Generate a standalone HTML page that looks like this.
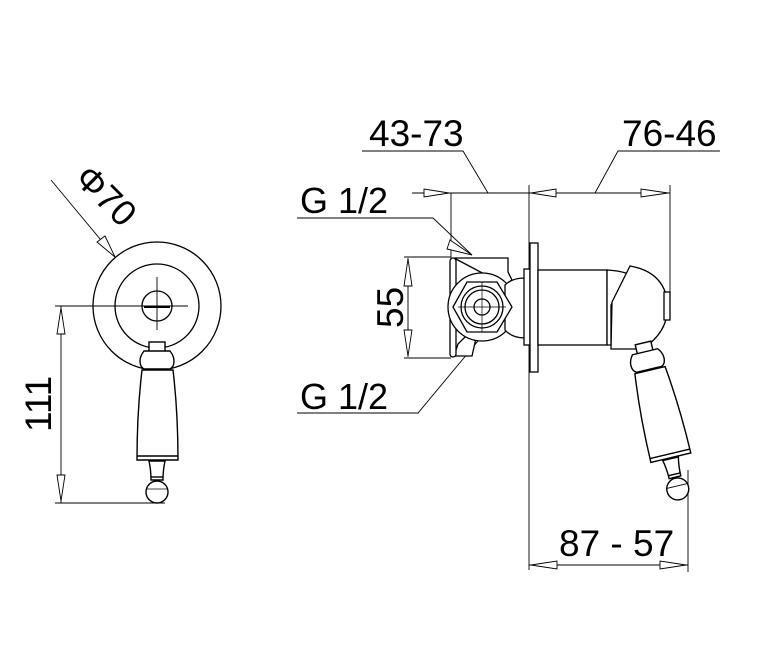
<!DOCTYPE html>
<html><head><meta charset="utf-8"><style>
html,body{margin:0;padding:0;background:#fff}
svg{display:block}
text{font-family:"Liberation Sans",sans-serif;fill:#000}
</style></head><body>
<svg width="762" height="672" viewBox="0 0 762 672" xmlns="http://www.w3.org/2000/svg">
<defs>
<g id="handle" fill="#fff" stroke="#000" stroke-width="1.4">
  <rect x="-8" y="0" width="16" height="10"/>
  <path d="M-13,9 L13,9 Q17,14 17,19 Q17,25 13,27 L-13,27 Q-17,25 -17,19 Q-17,14 -13,9 Z"/>
  <path d="M-15,28 L16,28 Q21,70 21,118 L-20,118 Q-20,70 -15,28 Z"/>
  <line x1="-20" y1="114" x2="21" y2="114"/>
  <path d="M-8,119 L8,119 Q6,128 6,138 L-6,138 Q-6,128 -8,119 Z"/>
  <line x1="-6" y1="135" x2="6" y2="135"/>
  <circle cx="0" cy="150" r="11"/>
  <line x1="-10" y1="147" x2="10" y2="147" stroke-width="0.8"/>
</g>
</defs>

<!-- LEFT VIEW -->
<g fill="none" stroke="#000" stroke-width="1.3">
  <circle cx="157" cy="306" r="64"/>
  <circle cx="157" cy="306" r="42"/>
  <circle cx="157" cy="306" r="15"/>
</g>
<g stroke="#000" stroke-width="0.9">
  <line x1="55" y1="306" x2="188" y2="306"/>
  <line x1="157" y1="277" x2="157" y2="330"/>
  <line x1="144" y1="307" x2="170" y2="307" stroke-width="2"/>
  <line x1="61" y1="306" x2="61" y2="503"/>
  <line x1="55" y1="503" x2="165" y2="503"/>
  <line x1="51" y1="180" x2="115" y2="257"/>
</g>
<g fill="#fff" stroke="#000" stroke-width="0.9">
  <polygon points="61,308 57,334 65,334"/>
  <polygon points="61,501 57,475 65,475"/>
  <polygon points="115,257 97,242 105,236"/>
</g>
<use href="#handle" transform="translate(157,342)"/>
<text x="0" y="0" font-size="36" transform="translate(73,180) rotate(45)">Φ70</text>
<text x="0" y="0" font-size="37" transform="translate(51,432) rotate(-90)">111</text>

<!-- RIGHT VIEW dimension lines -->
<g stroke="#000" stroke-width="0.9" fill="none">
  <line x1="412" y1="193" x2="670" y2="193"/>
  <line x1="451" y1="193" x2="451" y2="258"/>
  <line x1="529" y1="185" x2="529" y2="570"/>
  <line x1="670" y1="185" x2="670" y2="293"/>
  <polyline points="362,151 463,151 488,193"/>
  <polyline points="720,151 618,151 595,193"/>
  <polyline points="297,218 433,218 472,255"/>
  <polyline points="297,413 418,413 483,335"/>
  <line x1="408" y1="258" x2="408" y2="357"/>
  <line x1="404" y1="257" x2="451" y2="257"/>
  <line x1="404" y1="358" x2="451" y2="358"/>
  <line x1="529" y1="565" x2="688" y2="565"/>
  <line x1="688" y1="470" x2="688" y2="572"/>
</g>
<g fill="#fff" stroke="#000" stroke-width="0.9">
  <polygon points="449,193 424,189 424,197"/>
  <polygon points="531,193 556,189 556,197"/>
  <polygon points="668,193 641,189 641,197"/>
  <polygon points="472,255 450,240 447,249"/>
  <polygon points="483,335 462,344 469,351"/>
  <polygon points="408,259 404,286 412,286"/>
  <polygon points="408,356 404,330 412,330"/>
  <polygon points="531,565 557,561 557,569"/>
  <polygon points="686,565 660,561 660,569"/>
</g>

<!-- RIGHT VIEW body -->
<g fill="#fff" stroke="#000" stroke-width="1.3">
  <path d="M454,258 L508,258 L508,272 L512,280 L505,285 Z" />
  <path d="M454,356 L472,356 L476,338 L468,334 L458,344 Z"/>
  <rect x="450" y="258" width="6" height="99" rx="3"/>
  <circle cx="482" cy="307" r="34"/>
  <path d="M505,285 Q512,278 525,278 L525,338 Q512,338 505,330 Z"/>
  <polygon points="453,307 467,282 497,282 512,307 497,332 467,332"/>
  <circle cx="482" cy="307" r="21"/>
  <circle cx="482" cy="307" r="17"/>
  <circle cx="482" cy="307" r="8"/>
  <rect x="524" y="269" width="6" height="76"/>
  <rect x="530" y="243" width="8" height="129"/>
  <rect x="538" y="270" width="69" height="75"/>
  <path d="M607,270 Q622,271 628,274 L611,305 L611,345 L607,345 Z"/>
  <path d="M611,349 L642,349 Q668,333 668,305 Q665,272 630,266 L612,302 Z"/>
  <rect x="664" y="292" width="6" height="28"/>
</g>
<g stroke="#000" stroke-width="0.7">
  <line x1="482" y1="282" x2="482" y2="332"/>
  <line x1="458" y1="307" x2="506" y2="307"/>
</g>
<use href="#handle" transform="translate(643,343) rotate(-13.4)"/>

<text x="369" y="146" font-size="37">43-73</text>
<text x="622" y="146" font-size="37">76-46</text>
<text x="300" y="213" font-size="36">G 1/2</text>
<text x="300" y="409" font-size="36">G 1/2</text>
<text x="0" y="0" font-size="37" transform="translate(403,328) rotate(-90)">55</text>
<text x="559" y="556" font-size="37">87 - 57</text>
</svg>
</body></html>
